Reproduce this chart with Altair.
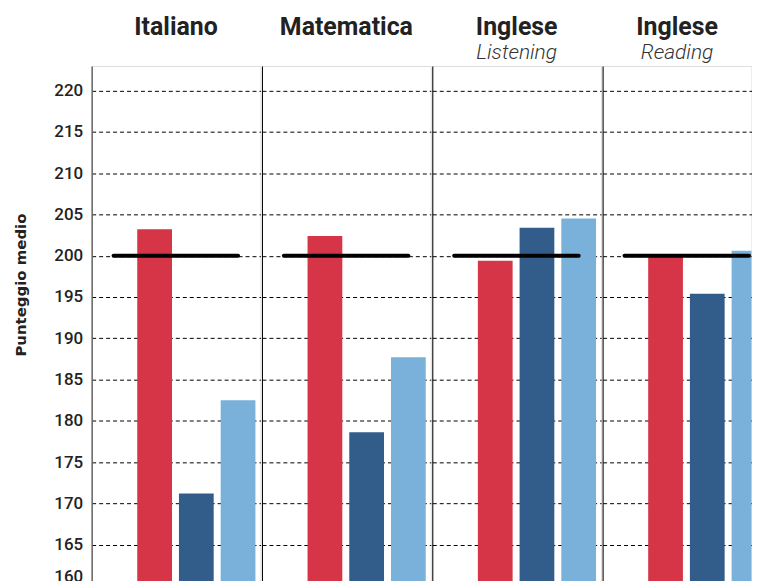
import altair as alt
import pandas as pd

subjects = ["Italiano", "Matematica", "Inglese Listening", "Inglese Reading"]
titles = ["Italiano", "Matematica", "Inglese", "Inglese"]
subtitles = [" ", " ", "Listening", "Reading"]
groups = ["Gruppo 1", "Gruppo 2", "Gruppo 3"]
values_red = [203.2, 202.4, 199.4, 200.2]
values_dark = [171.2, 178.6, 203.4, 195.4]
values_light = [182.5, 187.7, 204.5, 200.6]
reference = 200
colors = ["#D63447", "#325D8A", "#7AB1DA"]
y_ticks = list(range(160, 221, 5))
y_domain = [160, 223]

rows = []
for i, s in enumerate(subjects):
    for g, vals in zip(groups, [values_red, values_dark, values_light]):
        rows.append({"materia": s, "gruppo": g, "punteggio": vals[i]})
df = pd.DataFrame(rows)
ref_df = pd.DataFrame({"materia": subjects, "riferimento": [reference] * len(subjects)})

FONT = "Roboto"
PANEL_W = 169.5
LAST_W = 149.5
panels = []
for i, s in enumerate(subjects):
    first = i == 0
    last = i == len(subjects) - 1
    if first:
        yaxis = alt.Axis(
            values=y_ticks, title="Punteggio medio", titleFontSize=15, titleFontWeight="bold",
            titleFont="DejaVu Sans", titleColor="#222", titlePadding=25, titleY=219.5,
            labelFontSize=17, labelFont=FONT, labelFontWeight=500, labelColor="#222",
            labelPadding=9, labelFlush=True, ticks=False, domainColor="#666", domainWidth=1.5,
            grid=True, gridColor="black", gridDash=[4, 3], gridWidth=1,
        )
    else:
        yaxis = alt.Axis(
            values=y_ticks, title=None, labels=False, ticks=False,
            domainColor="black", domainWidth=1,
            grid=True, gridColor="black", gridDash=[4, 3], gridWidth=1,
        )
    yenc = alt.Y("punteggio:Q", scale=alt.Scale(domain=y_domain, clamp=True, nice=False, zero=False), axis=yaxis)
    xscale = alt.Scale(paddingInner=0.167, paddingOuter=0.607, align=0.9, range=[0, PANEL_W])
    bars = alt.Chart(df).transform_filter(alt.datum.materia == s).mark_bar(clip=True).encode(
        x=alt.X("gruppo:N", sort=groups, axis=None, scale=xscale),
        y=yenc,
        color=alt.Color("gruppo:N", sort=groups, scale=alt.Scale(domain=groups, range=colors), legend=None),
    )
    rule = alt.Chart(ref_df).transform_filter(alt.datum.materia == s).mark_rule(
        strokeWidth=4, color="black", strokeCap="round"
    ).encode(
        y=alt.Y("riferimento:Q"),
        x=alt.value(22), x2=alt.value(147),
    )
    panel = alt.layer(bars, rule).properties(
        width=LAST_W if last else PANEL_W, height=522,
        title=alt.TitleParams(
            text=titles[i], subtitle=subtitles[i], font=FONT, fontSize=25, fontWeight="bold",
            color="#222", subtitleFont=FONT, subtitleFontSize=21, subtitleFontStyle="italic",
            subtitleFontWeight=300, subtitleColor="#333", subtitlePadding=2, anchor="middle",
            offset=3,
        ),
    )
    panels.append(panel)

chart = alt.hconcat(*panels, spacing=0).resolve_scale(y="shared").configure_view(
    stroke=None
).configure(background="white", padding={"left": 5, "top": 5, "right": 0, "bottom": 5})

chart.save("out.html", embed_options={"renderer": "svg", "actions": False})
